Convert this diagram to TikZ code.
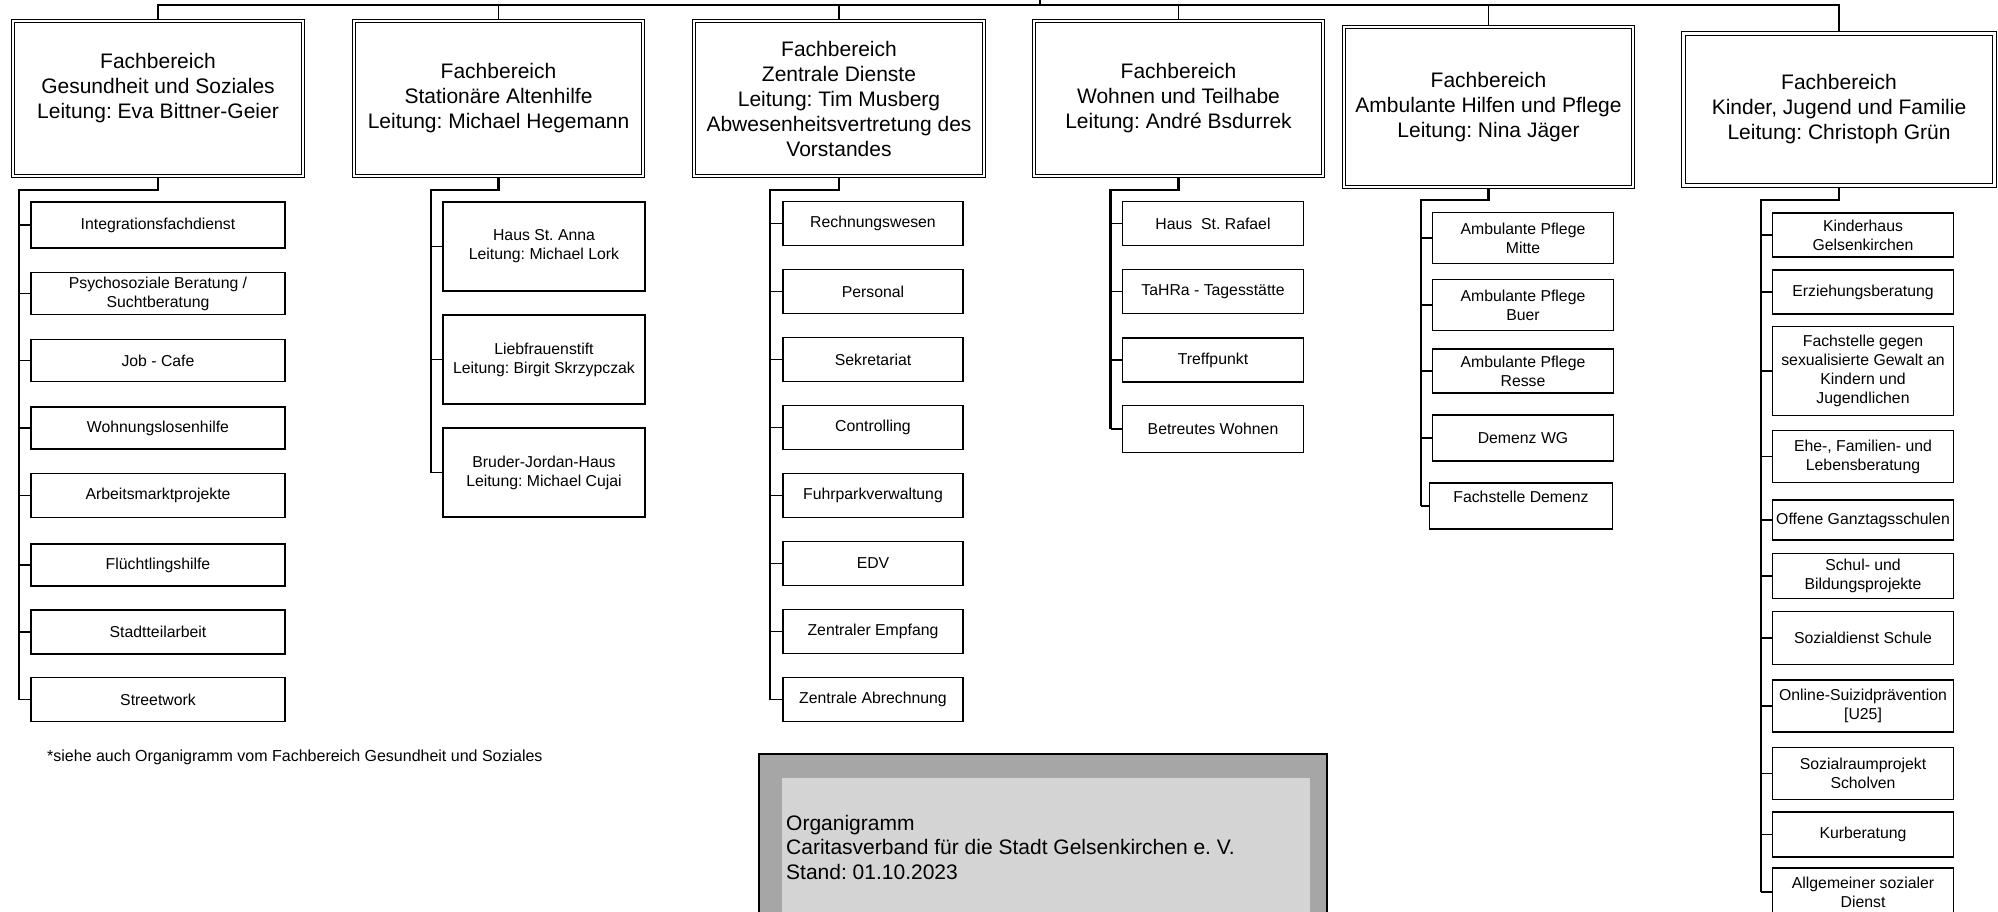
\documentclass[tikz,border=0pt]{standalone}
\usepackage{fontspec}
\setmainfont{Liberation Sans}
\frenchspacing
\definecolor{dunkelgrau}{HTML}{A6A6A6}
\definecolor{hellgrau}{HTML}{D4D4D4}

\begin{document}
\begin{tikzpicture}[x=1pt, y=-1pt,
  fb/.style={draw, double, double distance=2.4pt, line width=1.1pt, align=center, inner sep=0pt, outer sep=2.3pt, font=\fontsize{21}{25}\selectfont},
  ab/.style={draw, line width=1.8pt, align=center, inner sep=1pt, font=\fontsize{15.8}{19}\selectfont},
  ln/.style={line width=1.6pt},
  ast/.style={line width=2.4pt}]
\useasboundingbox (0,0) rectangle (1998,911);

% Fachbereiche
\node[fb, minimum width=290pt, minimum height=155pt] (fb1) at (158,98.5){Fachbereich\\Gesundheit und Soziales\\Leitung: Eva Bittner-Geier\\~};
\node[fb, minimum width=289pt, minimum height=155pt] (fb2) at (498.5,98.5){Fachbereich\\Stationäre Altenhilfe\\Leitung: Michael Hegemann};
\node[fb, minimum width=290pt, minimum height=155pt] (fb3) at (839,98.5){Fachbereich\\Zentrale Dienste\\Leitung: Tim Musberg\\Abwesenheitsvertretung des\\Vorstandes};
\node[fb, minimum width=289pt, minimum height=155pt] (fb4) at (1178.5,98.5){Fachbereich\\Wohnen und Teilhabe\\Leitung: André Bsdurrek};
\node[fb, minimum width=289pt, minimum height=160pt] (fb5) at (1488.5,107){Fachbereich\\Ambulante Hilfen und Pflege\\Leitung: Nina Jäger};
\node[fb, minimum width=311pt, minimum height=152pt] (fb6) at (1839,109.5){Fachbereich\\Kinder, Jugend und Familie\\Leitung: Christoph Grün};

\coordinate (oben) at (1040,0);
\coordinate (bus) at (1040,5);
\draw[ln](oben) -- (bus);
\draw[ln](fb1.north) |- (bus) -| (fb6.north);
\draw[ln](fb2.north) -- (fb2.north |- bus);
\draw[ln](fb3.north) -- (fb3.north |- bus);
\draw[ln](fb4.north) -- (fb4.north |- bus);
\draw[ln](fb5.north) -- (fb5.north |- bus);

% Gesundheit und Soziales
\coordinate (k1) at (19,190);
\node[ab, minimum width=254pt, minimum height=46pt] (ab1-1) at (158,225){Integrationsfachdienst};
\node[ab, minimum width=254pt, minimum height=42pt] (ab1-2) at (158,293.5){Psychosoziale Beratung /\\Suchtberatung};
\node[ab, minimum width=254pt, minimum height=42pt] (ab1-3) at (158,360.5){Job - Cafe};
\node[ab, minimum width=254pt, minimum height=42pt] (ab1-4) at (158,428){Wohnungslosenhilfe};
\node[ab, minimum width=254pt, minimum height=44pt] (ab1-5) at (158,495.5){Arbeitsmarktprojekte};
\node[ab, minimum width=254pt, minimum height=42pt] (ab1-6) at (158,565){Flüchtlingshilfe};
\node[ab, minimum width=254pt, minimum height=44pt] (ab1-7) at (158,632){Stadtteilarbeit};
\node[ab, minimum width=254pt, minimum height=44pt] (ab1-8) at (158,699.5){Streetwork};
\draw[ast](fb1.south) |- (k1) -- (k1 |- ab1-8.west);
\draw[ln](ab1-1.west) -- (ab1-1.west -| k1);
\draw[ln](ab1-2.west) -- (ab1-2.west -| k1);
\draw[ln](ab1-3.west) -- (ab1-3.west -| k1);
\draw[ln](ab1-4.west) -- (ab1-4.west -| k1);
\draw[ln](ab1-5.west) -- (ab1-5.west -| k1);
\draw[ln](ab1-6.west) -- (ab1-6.west -| k1);
\draw[ln](ab1-7.west) -- (ab1-7.west -| k1);
\draw[ln](ab1-8.west) -- (ab1-8.west -| k1);

% Stationaere Altenhilfe
\coordinate (k2) at (431,190);
\node[ab, minimum width=202pt, minimum height=89pt] (ab2-1) at (544,246.5){Haus St. Anna\\Leitung: Michael Lork};
\node[ab, minimum width=202pt, minimum height=89pt] (ab2-2) at (544,359.5){Liebfrauenstift\\Leitung: Birgit Skrzypczak};
\node[ab, minimum width=202pt, minimum height=89pt] (ab2-3) at (544,472.5){Bruder-Jordan-Haus\\Leitung: Michael Cujai};
\draw[ast](fb2.south) |- (k2) -- (k2 |- ab2-3.west);
\draw[ln](ab2-1.west) -- (ab2-1.west -| k2);
\draw[ln](ab2-2.west) -- (ab2-2.west -| k2);
\draw[ln](ab2-3.west) -- (ab2-3.west -| k2);

% Zentrale Dienste
\coordinate (k3) at (770,190);
\node[ab, minimum width=180pt, minimum height=44pt] (ab3-1) at (873,223.5){Rechnungswesen};
\node[ab, minimum width=180pt, minimum height=44pt] (ab3-2) at (873,291.5){Personal};
\node[ab, minimum width=180pt, minimum height=44pt] (ab3-3) at (873,359.5){Sekretariat};
\node[ab, minimum width=180pt, minimum height=44pt] (ab3-4) at (873,427.5){Controlling};
\node[ab, minimum width=180pt, minimum height=44pt] (ab3-5) at (873,495.5){Fuhrparkverwaltung};
\node[ab, minimum width=180pt, minimum height=44pt] (ab3-6) at (873,563.5){EDV};
\node[ab, minimum width=180pt, minimum height=44pt] (ab3-7) at (873,631.5){Zentraler Empfang};
\node[ab, minimum width=180pt, minimum height=44pt] (ab3-8) at (873,699.5){Zentrale Abrechnung};
\draw[ast](fb3.south) |- (k3) -- (k3 |- ab3-8.west);
\draw[ln](ab3-1.west) -- (ab3-1.west -| k3);
\draw[ln](ab3-2.west) -- (ab3-2.west -| k3);
\draw[ln](ab3-3.west) -- (ab3-3.west -| k3);
\draw[ln](ab3-4.west) -- (ab3-4.west -| k3);
\draw[ln](ab3-5.west) -- (ab3-5.west -| k3);
\draw[ln](ab3-6.west) -- (ab3-6.west -| k3);
\draw[ln](ab3-7.west) -- (ab3-7.west -| k3);
\draw[ln](ab3-8.west) -- (ab3-8.west -| k3);

% Wohnen und Teilhabe
\coordinate (k4) at (1110.5,190);
\node[ab, minimum width=181pt, minimum height=44pt] (ab4-1) at (1213,223.5){Haus~ St. Rafael};
\node[ab, minimum width=181pt, minimum height=44pt] (ab4-2) at (1213,291.5){TaHRa - Tagesstätte};
\node[ab, minimum width=181pt, minimum height=44pt] (ab4-3) at (1213,360){Treffpunkt};
\node[ab, minimum width=181pt, minimum height=47pt] (ab4-4) at (1213,429){Betreutes Wohnen};
\draw[ast](fb4.south) |- (k4) -- (k4 |- ab4-4.west);
\draw[ln](ab4-1.west) -- (ab4-1.west -| k4);
\draw[ln](ab4-2.west) -- (ab4-2.west -| k4);
\draw[ln](ab4-3.west) -- (ab4-3.west -| k4);
\draw[ln](ab4-4.west) -- (ab4-4.west -| k4);

% Ambulante Hilfen und Pflege
\coordinate (k5) at (1421,200);
\node[ab, minimum width=181pt, minimum height=51pt] (ab5-1) at (1523,238){Ambulante Pflege\\Mitte};
\node[ab, minimum width=181pt, minimum height=51pt] (ab5-2) at (1523,305){Ambulante Pflege\\Buer};
\node[ab, minimum width=181pt, minimum height=44pt] (ab5-3) at (1523,371){Ambulante Pflege\\Resse};
\node[ab, minimum width=181pt, minimum height=46pt] (ab5-4) at (1523,438){Demenz WG};
\node[ab, minimum width=183pt, minimum height=46pt] (ab5-5) at (1521,506){Fachstelle Demenz\\~};
\draw[ast](fb5.south) |- (k5) -- (k5 |- ab5-5.west);
\draw[ln](ab5-1.west) -- (ab5-1.west -| k5);
\draw[ln](ab5-2.west) -- (ab5-2.west -| k5);
\draw[ln](ab5-3.west) -- (ab5-3.west -| k5);
\draw[ln](ab5-4.west) -- (ab5-4.west -| k5);
\draw[ln](ab5-5.west) -- (ab5-5.west -| k5);

% Kinder, Jugend und Familie
\coordinate (k6) at (1761,200);
\node[ab, minimum width=181pt, minimum height=44pt] (ab6-1) at (1863,235){Kinderhaus\\Gelsenkirchen};
\node[ab, minimum width=181pt, minimum height=44pt] (ab6-2) at (1863,292){Erziehungsberatung};
\node[ab, minimum width=181pt, minimum height=89pt] (ab6-3) at (1863,371){Fachstelle gegen\\sexualisierte Gewalt an\\Kindern und\\Jugendlichen};
\node[ab, minimum width=181pt, minimum height=52pt] (ab6-4) at (1863,456.5){Ehe-, Familien- und\\Lebensberatung};
\node[ab, minimum width=181pt, minimum height=40pt] (ab6-5) at (1863,520){Offene Ganztagsschulen};
\node[ab, minimum width=181pt, minimum height=45pt] (ab6-6) at (1863,576){Schul- und\\Bildungsprojekte};
\node[ab, minimum width=181pt, minimum height=53pt] (ab6-7) at (1863,638){Sozialdienst Schule};
\node[ab, minimum width=181pt, minimum height=52pt] (ab6-8) at (1863,706){Online-Suizidprävention\\{[U25]}};
\node[ab, minimum width=181pt, minimum height=52pt] (ab6-9) at (1863,773.5){Sozialraumprojekt\\Scholven};
\node[ab, minimum width=181pt, minimum height=45pt] (ab6-10) at (1863,834.5){Kurberatung};
\node[ab, minimum width=181pt, minimum height=48pt] (ab6-11) at (1863,892){Allgemeiner sozialer\\Dienst};
\draw[ast](fb6.south) |- (k6) -- (k6 |- ab6-11.west);
\draw[ln](ab6-1.west) -- (ab6-1.west -| k6);
\draw[ln](ab6-2.west) -- (ab6-2.west -| k6);
\draw[ln](ab6-3.west) -- (ab6-3.west -| k6);
\draw[ln](ab6-4.west) -- (ab6-4.west -| k6);
\draw[ln](ab6-5.west) -- (ab6-5.west -| k6);
\draw[ln](ab6-6.west) -- (ab6-6.west -| k6);
\draw[ln](ab6-7.west) -- (ab6-7.west -| k6);
\draw[ln](ab6-8.west) -- (ab6-8.west -| k6);
\draw[ln](ab6-9.west) -- (ab6-9.west -| k6);
\draw[ln](ab6-10.west) -- (ab6-10.west -| k6);
\draw[ln](ab6-11.west) -- (ab6-11.west -| k6);

% Fussnote und Titel
\node[anchor=west, inner sep=0pt, font=\fontsize{16}{19}\selectfont] (fussnote) at (47,757){*siehe auch Organigramm vom Fachbereich Gesundheit und Soziales};
\draw[line width=1.5pt, fill=dunkelgrau] (759,754) rectangle (1327,960);
\fill[hellgrau] (782,778) rectangle (1310,960);
\node[anchor=west, align=left, inner sep=0pt, font=\fontsize{21}{24.5}\selectfont] (titel) at (786,847){Organigramm\\Caritasverband für die Stadt Gelsenkirchen e. V.\\Stand: 01.10.2023};

\end{tikzpicture}
\end{document}
